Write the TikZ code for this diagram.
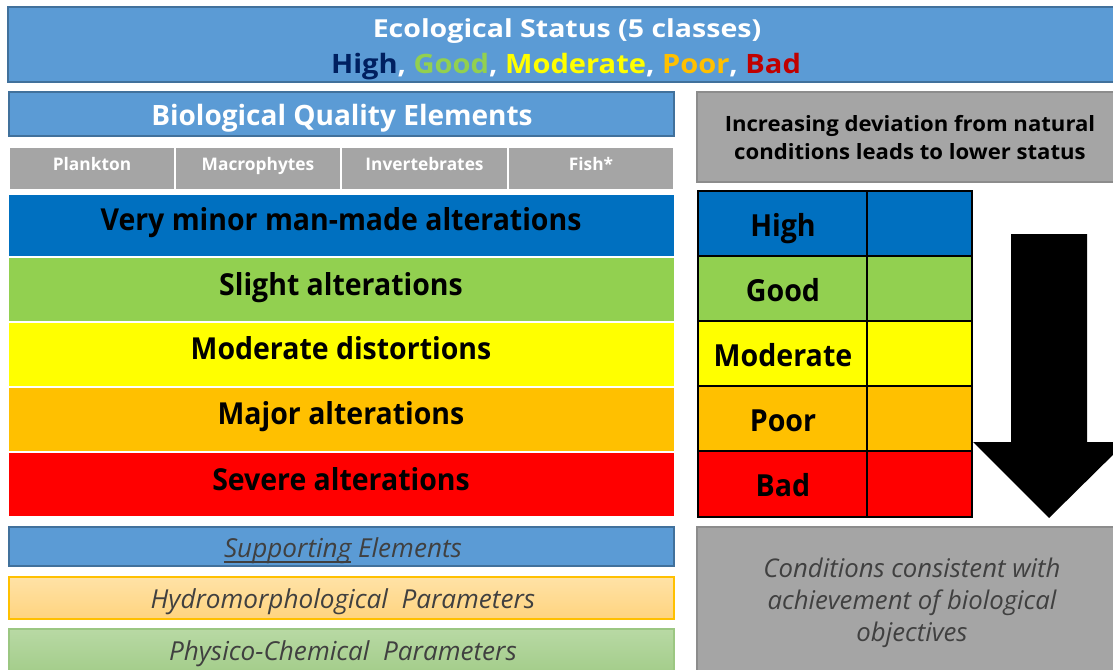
\documentclass[tikz,border=0pt]{standalone}
\usepackage{fontspec}
\setmainfont{Open Sans}
\newfontfamily\titlefont[FakeStretch=1.15]{Open Sans}
\newfontfamily\classfont[FakeStretch=1.09]{Open Sans}
\newfontfamily\bandfont[FakeStretch=0.94]{Open Sans}
\newfontfamily\devfont[FakeStretch=1.05]{Open Sans}
\usepackage{xcolor}
\newsavebox\suppbox
\definecolor{hdrblue}{HTML}{5B9BD5}
\definecolor{hdrborder}{HTML}{41719C}
\definecolor{cHigh}{HTML}{002060}
\definecolor{cGood}{HTML}{92D050}
\definecolor{cMod}{HTML}{FFFF00}
\definecolor{cPoor}{HTML}{FFC000}
\definecolor{cBad}{HTML}{C00000}
\definecolor{bandblue}{HTML}{0070C0}
\definecolor{bandred}{HTML}{FF0000}
\definecolor{gfill}{HTML}{A5A5A5}
\definecolor{gborder}{HTML}{8C8C8C}
\definecolor{itxt}{HTML}{404040}
\definecolor{hydtop}{HTML}{FFE2A6}
\definecolor{hydbot}{HTML}{FFD47F}
\definecolor{hydborder}{HTML}{FFC000}
\definecolor{phytop}{HTML}{B8D9A4}
\definecolor{phybot}{HTML}{A0CB86}
\definecolor{phyborder}{HTML}{9CC782}
\begin{document}
\begin{tikzpicture}[x=0.75pt,y=-0.75pt,
  every node/.style={inner sep=0pt},
  hdrbox/.style={fill=hdrblue,draw=hdrborder,line width=1pt},
  graybox/.style={fill=gfill,draw=gborder,line width=1.2pt},
  celltxt/.style={anchor=base,text=white,font=\bfseries\fontsize{13pt}{15pt}\selectfont},
  bandtxt/.style={anchor=base,text=black,font=\bandfont\bfseries\fontsize{22.7pt}{26pt}\selectfont},
  tabtxt/.style={anchor=base,text=black,font=\bandfont\bfseries\fontsize{22.8pt}{26pt}\selectfont},
  ittxt/.style={anchor=base,text=itxt,font=\itshape\fontsize{19.6pt}{22pt}\selectfont},
  tabline/.style={draw=black,line width=1.6pt}]
\useasboundingbox (0,0) rectangle (1113,669);
\clip (0,0) rectangle (1113,669);
% top banner
\path[hdrbox] (8,7) rectangle (1120,82);
\node[anchor=base,text=white,font=\titlefont\bfseries\fontsize{18.6pt}{20pt}\selectfont] (title) at (567,37) {Ecological Status (5 classes)};
\node[anchor=base,text=white,font=\classfont\bfseries\fontsize{20pt}{22pt}\selectfont] (classes) at (566,73) {\textcolor{cHigh}{High}, \textcolor{cGood}{Good}, \textcolor{cMod}{Moderate}, \textcolor{cPoor}{Poor}, \textcolor{cBad}{Bad}};
% BQE header
\path[hdrbox] (9,92) rectangle (674,136);
\node[anchor=base,text=white,font=\bfseries\fontsize{21pt}{23pt}\selectfont] (bqe) at (342,125.5) {Biological Quality Elements};
% gray cells
\path[fill=gfill,draw=white,line width=1.2pt] (9,147) rectangle (175,190);
\path[fill=gfill,draw=white,line width=1.2pt] (175,147) rectangle (341,190);
\path[fill=gfill,draw=white,line width=1.2pt] (341,147) rectangle (508,190);
\path[fill=gfill,draw=white,line width=1.2pt] (508,147) rectangle (674,190);
\node[celltxt] (plank) at (92,170.5) {Plankton};
\node[celltxt] (macro) at (258,170.5) {Macrophytes};
\node[celltxt] (invert) at (424.5,170.5) {Invertebrates};
\node[celltxt] (fish) at (591,170.5) {Fish*};
% bands
\path[fill=bandblue] (9,195) rectangle (674,256);
\path[fill=cGood] (9,257.5) rectangle (674,321);
\path[fill=cMod] (9,322.5) rectangle (674,386);
\path[fill=cPoor] (9,387.5) rectangle (674,451);
\path[fill=bandred] (9,452.5) rectangle (674,516);
\node[bandtxt] (b1) at (341,230) {Very minor man-made alterations};
\node[bandtxt] (b2) at (341,295) {Slight alterations};
\node[bandtxt] (b3) at (341,359.5) {Moderate distortions};
\node[bandtxt] (b4) at (341,424) {Major alterations};
\node[bandtxt] (b5) at (341,490) {Severe alterations};
% supporting elements
\path[hdrbox] (9,527) rectangle (674,566);
\node[ittxt] (supp) at (343,557.5) {\sbox\suppbox{Supporting}\rlap{\rule[-0.2em]{\wd\suppbox}{0.055em}}\usebox\suppbox{} Elements};
\path[top color=hydtop,bottom color=hydbot,draw=hydborder,line width=0.8pt] (9,577) rectangle (674,619);
\node[ittxt] (hydro) at (343,608.3) {Hydromorphological\ \ Parameters};
\path[top color=phytop,bottom color=phybot,draw=phyborder,line width=0.8pt] (9,629) rectangle (674,680);
\node[ittxt] (phys) at (343,660) {Physico-Chemical\ \ Parameters};
% right top gray box
\path[graybox] (697,92) rectangle (1120,182);
\node[align=center,text=black,font=\devfont\bfseries\fontsize{15.8pt}{20.7pt}\selectfont] (dev) at (910,137.5) {Increasing deviation from natural\\conditions leads to lower status};
% table
\path[fill=bandblue] (698,191) rectangle (972,256);
\path[fill=cGood] (698,256) rectangle (972,321);
\path[fill=cMod] (698,321) rectangle (972,386);
\path[fill=cPoor] (698,386) rectangle (972,451);
\path[fill=bandred] (698,451) rectangle (972,517);
\draw[tabline] (698,191) rectangle (972,517);
\draw[tabline] (867,191) -- (867,517);
\draw[tabline] (698,256) -- (972,256);
\draw[tabline] (698,321) -- (972,321);
\draw[tabline] (698,386) -- (972,386);
\draw[tabline] (698,451) -- (972,451);
\node[tabtxt] (tHigh) at (783,236) {High};
\node[tabtxt] (tGood) at (783,301) {Good};
\node[tabtxt] (tMod) at (783,366) {Moderate};
\node[tabtxt] (tPoor) at (783,431) {Poor};
\node[tabtxt] (tBad) at (783,496) {Bad};
% big arrow
\fill[black] (1011,234) -- (1087,234) -- (1087,442) -- (1126,442) -- (1049,518) -- (973,442) -- (1011,442) -- cycle;
% bottom right gray box
\path[graybox] (697,527) rectangle (1120,680);
\node[align=center,text=itxt,font=\itshape\fontsize{19.3pt}{24pt}\selectfont] (cond) at (912,602.5) {Conditions consistent with\\achievement of biological\\objectives};
\end{tikzpicture}
\end{document}
